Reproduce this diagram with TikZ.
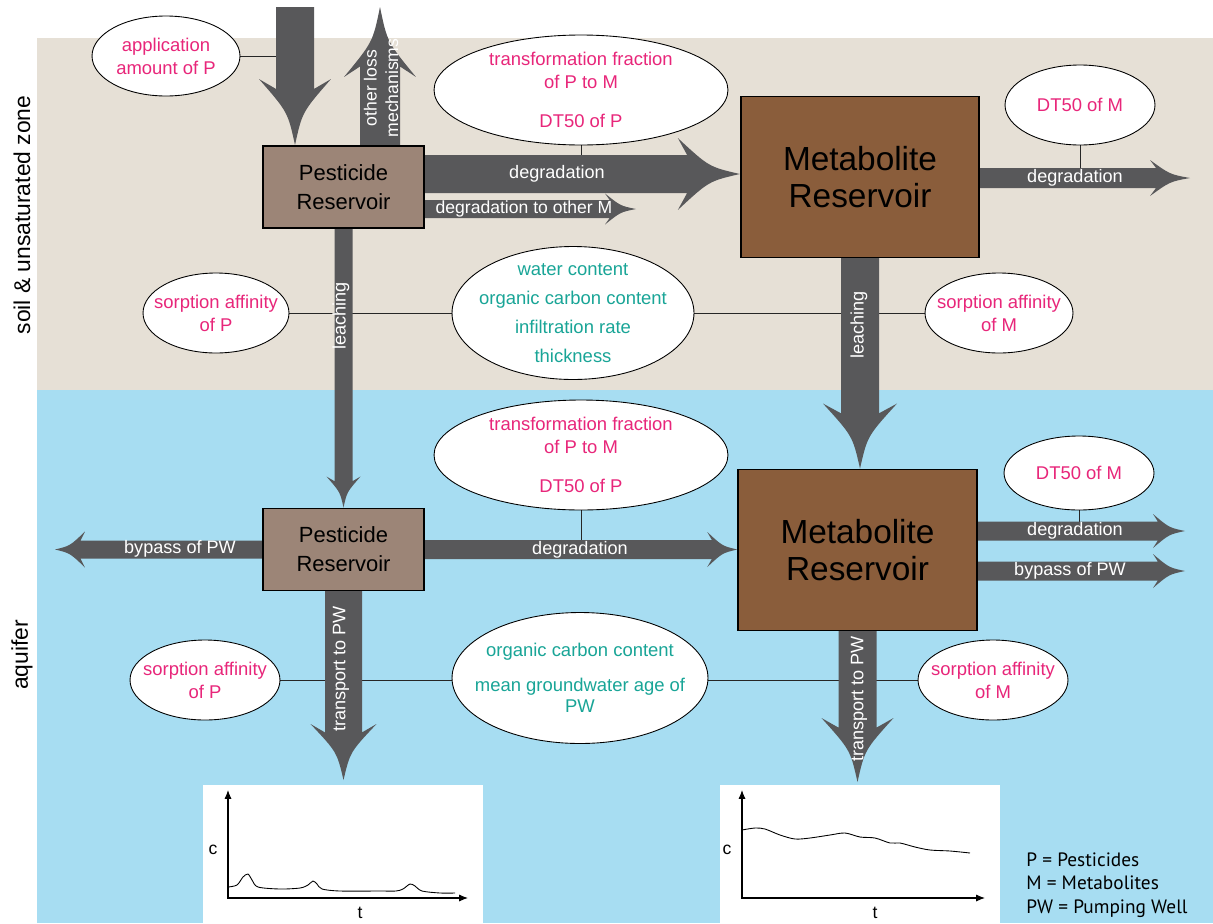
\documentclass[tikz,border=0pt]{standalone}
\usepackage{fontspec}
\setmainfont{Liberation Sans}
\newfontfamily\keyfont{PT Sans}
\usepackage{tikz}
\usetikzlibrary{calc, arrows.meta, shapes.geometric}
\pgfdeclarelayer{zones}
\pgfdeclarelayer{flows}
\pgfsetlayers{zones,flows,main}
\definecolor{soilbg}{HTML}{E6E0D6}
\definecolor{aquibg}{HTML}{A7DDF2}
\definecolor{flowgray}{HTML}{58585A}
\definecolor{pestbrown}{HTML}{9C8577}
\definecolor{metbrown}{HTML}{8A5D3B}
\definecolor{parpink}{HTML}{E8267A}
\definecolor{parteal}{HTML}{19A597}

\begin{document}
\begin{tikzpicture}[
  x=0.02cm, y=-0.02cm,
  pestbox/.style={draw, line width=1.1pt, fill=pestbrown, minimum width=3.22cm, minimum height=1.64cm, align=center, font=\fontsize{12.5}{16.4}\selectfont},
  metbox/.style={draw, line width=1.1pt, fill=metbrown, minimum width=4.77cm, minimum height=3.22cm, align=center, font=\fontsize{19}{21.5}\selectfont},
  param/.style 2 args={ellipse, draw, fill=white, line width=0.5pt, inner sep=0pt, minimum width=#1, minimum height=#2},
  ptext/.style={text=parpink, align=center, inner sep=0pt, font=\fontsize{10.5}{13}\selectfont},
  ttext/.style={text=parteal, align=center, inner sep=0pt, font=\fontsize{10.5}{16.4}\selectfont},
  flowtext/.style={text=white, inner sep=0pt, align=center, font=\fontsize{10.3}{12.8}\selectfont},
  zonetext/.style={rotate=90, font=\fontsize{13}{15}\selectfont},
  link/.style={draw=black!85, line width=0.5pt},
  axisline/.style={line width=0.6pt, {Latex[length=5pt,width=4pt]}-{Latex[length=5pt,width=4pt]}},
  bigflow/.style n args={3}{to path={
    ($(\tikztostart)!#1!90:(\tikztotarget)$)
    -- ($(\tikztotarget)!0.85*#3!(\tikztostart)!#1!-90:(\tikztostart)$)
    -- ($(\tikztotarget)!#3!(\tikztostart)!#2!-90:(\tikztostart)$)
    .. controls ($(\tikztotarget)!0.5*#3!(\tikztostart)!0.2*#2!-90:(\tikztostart)$) .. (\tikztotarget)
    .. controls ($(\tikztotarget)!0.5*#3!(\tikztostart)!0.2*#2!90:(\tikztostart)$) .. ($(\tikztotarget)!#3!(\tikztostart)!#2!90:(\tikztostart)$)
    -- ($(\tikztotarget)!0.85*#3!(\tikztostart)!#1!90:(\tikztostart)$)
    -- ($(\tikztostart)!#1!-90:(\tikztotarget)$) -- cycle}}
]
  \useasboundingbox (0,0) rectangle (1213,923);

  % zones
  \begin{pgfonlayer}{zones}
    \fill[soilbg] (37,38) rectangle (1213,390);
    \fill[aquibg] (37,390) rectangle (1213,923);
  \end{pgfonlayer}
  \node[zonetext] (soillbl) at (22,215) {soil \& unsaturated zone};
  \node[zonetext] (aquilbl) at (22,655) {aquifer};

  % reservoirs
  \node[pestbox] (pres1) at (343.5,187) {Pesticide\\Reservoir};
  \node[metbox] (mres1) at (860,177) {Metabolite\\Reservoir};
  \node[pestbox] (pres2) at (343.5,549.5) {Pesticide\\Reservoir};
  \node[metbox] (mres2) at (857.5,550) {Metabolite\\Reservoir};

  % parameters
  \node[param={2.96cm}{1.6cm}, label={[ptext]center:{application\\amount of P}}] (app) at (166,56) {};
  \node[param={5.88cm}{2.2cm}, label={[ptext]center:{transformation fraction\\of P to M\\[9pt]DT50 of P}}] (tf1) at (581,90) {};
  \node[param={3.0cm}{1.6cm}, label={[ptext]center:{DT50 of M}}] (dtm1) at (1080,105) {};
  \node[param={2.92cm}{1.6cm}, label={[ptext]center:{sorption affinity\\of P}}] (sap1) at (216,313) {};
  \node[param={4.84cm}{2.66cm}, label={[ttext]center:{water content\\organic carbon content\\infiltration rate\\thickness}}] (wc) at (573,313) {};
  \node[param={2.96cm}{1.6cm}, label={[ptext]center:{sorption affinity\\of M}}] (sam1) at (999,313) {};
  \node[param={5.88cm}{2.2cm}, label={[ptext]center:{transformation fraction\\of P to M\\[9pt]DT50 of P}}] (tf2) at (581,455) {};
  \node[param={3.0cm}{1.48cm}, label={[ptext]center:{DT50 of M}}] (dtm2) at (1079,473) {};
  \node[param={3.0cm}{1.6cm}, label={[ptext]center:{sorption affinity\\of P}}] (sap2) at (205,680) {};
  \node[param={5.12cm}{2.62cm}, label={[ttext, font=\fontsize{10.5}{12}\selectfont]center:{organic carbon content\\[8pt]mean groundwater age of\\PW}}] (oc) at (580,678) {};
  \node[param={3.0cm}{1.6cm}, label={[ptext]center:{sorption affinity\\of M}}] (sam2) at (993,680) {};

  \coordinate (appin) at (295,7);
  \coordinate (lossout) at (380,7);

  % flows
  \begin{pgfonlayer}{flows}
    \draw[link] (app.east) -- (app.east -| appin);
    \draw[link] (tf1.south) -- (tf1.south |- 0,174);
    \draw[link] (dtm1.south) -- (dtm1.south |- 0,178);
    \draw[link] (sap1.east) -- (wc.west);
    \draw[link] (wc.east) -- (sam1.west);
    \draw[link] (tf2.south) -- (tf2.south |- pres2.center);
    \draw[link] (dtm2.south) -- (dtm2.south |- 0,531);
    \draw[link] (sap2.east) -- (sap2.east -| oc.west);
    \draw[link] (oc.east |- sam2.west) -- (sam2.west);

    \fill[flowgray] (appin) to[bigflow={0.38cm}{0.72cm}{1.32cm}] (pres1.north -| appin);
    \fill[flowgray] (pres1.center -| lossout) to[bigflow={0.40cm}{0.72cm}{1.40cm}] (lossout);
    \fill[flowgray] (pres1.center |- 0,174) to[bigflow={0.38cm}{0.72cm}{1.24cm}] (mres1.west |- 0,174);
    \fill[flowgray] (pres1.center |- 0,209) to[bigflow={0.18cm}{0.31cm}{0.62cm}] (636,209);
    \fill[flowgray] (mres1.center |- 0,178) to[bigflow={0.20cm}{0.36cm}{0.80cm}] (1190,178);
    \fill[flowgray] (pres1.center) to[bigflow={0.18cm}{0.34cm}{0.62cm}] (pres2.north);
    \fill[flowgray] (mres1.center) to[bigflow={0.38cm}{0.74cm}{1.30cm}] (mres1.center |- mres2.north);
    \fill[flowgray] (pres2.center) to[bigflow={0.19cm}{0.35cm}{0.60cm}] (mres2.west |- pres2.center);
    \fill[flowgray] (pres2.center) to[bigflow={0.18cm}{0.36cm}{0.60cm}] (55,549.5);
    \fill[flowgray] (mres2.center |- 0,531) to[bigflow={0.19cm}{0.34cm}{0.64cm}] (1185,531);
    \fill[flowgray] (mres2.center |- 0,571) to[bigflow={0.19cm}{0.34cm}{0.64cm}] (1185,571);
    \fill[flowgray] (pres2.center) to[bigflow={0.37cm}{0.66cm}{1.12cm}] (343.5,780);
    \fill[flowgray] (mres2.center) to[bigflow={0.38cm}{0.72cm}{1.28cm}] (857.5,782);
  \end{pgfonlayer}

  % flow labels
  \node[flowtext, rotate=90, font=\fontsize{10}{12.2}\selectfont] (lbloss) at (381,88) {other loss\\mechanisms};
  \node[flowtext] (lbdeg1) at (557,174) {degradation};
  \node[flowtext, font=\fontsize{10}{12}\selectfont] (lbdegoth) at (524,209) {degradation to other M};
  \node[flowtext] (lbdegm1) at (1075,178) {degradation};
  \node[flowtext, rotate=90] (lbleachp) at (341,316) {leaching};
  \node[flowtext, rotate=90] (lbleachm) at (859,325) {leaching};
  \node[flowtext] (lbdeg2) at (580,550) {degradation};
  \node[flowtext] (lbbypl) at (180,549) {bypass of PW};
  \node[flowtext] (lbdegm2) at (1075,531) {degradation};
  \node[flowtext] (lbbypr) at (1070,571) {bypass of PW};
  \node[flowtext, rotate=90] (lbtransp) at (341,669) {transport to PW};
  \node[flowtext, rotate=90] (lbtransm) at (859,699) {transport to PW};

  % pumping well curves
  \node[fill=white, minimum width=5.6cm, minimum height=2.76cm, inner sep=0pt] (chart1) at (343,854) {};
  \node[fill=white, minimum width=5.6cm, minimum height=2.76cm, inner sep=0pt] (chart2) at (860,854) {};
  \coordinate (c1o) at (228,898);
  \coordinate (c2o) at (742,898);
  \draw[axisline] (c1o |- 0,790) -- (c1o) -- (468,898);
  \draw[axisline] (c2o |- 0,790) -- (c2o) -- (985,898);
  \node[font=\fontsize{10}{12}\selectfont] (c1c) at (213,850) {c};
  \node[font=\fontsize{10}{12}\selectfont] (c1t) at (360,913) {t};
  \node[font=\fontsize{10}{12}\selectfont] (c2c) at (727,850) {c};
  \node[font=\fontsize{10}{12}\selectfont] (c2t) at (875,913) {t};
  \draw[line width=0.5pt] plot[smooth, tension=0.5] coordinates {(228,887) (237,885) (243,877) (248,874) (252,880) (258,887) (280,889) (300,888) (308,885) (313,881) (317,884) (322,889) (340,891) (380,891) (396,891) (403,889) (410,884) (415,886) (422,891) (440,893) (455,893)};
  \draw[line width=0.5pt] plot[smooth, tension=0.5] coordinates {(742,830) (755,828) (765,829) (780,835) (795,839) (810,838) (830,835) (845,833) (860,837) (875,838) (890,843) (900,843) (915,847) (930,850) (950,851) (970,853)};

  % key
  \node[anchor=north west, align=left, inner sep=0pt, font=\keyfont\fontsize{11}{13.6}\selectfont] (key) at (1026,852) {P = Pesticides\\M = Metabolites\\PW = Pumping Well};
\end{tikzpicture}
\end{document}
